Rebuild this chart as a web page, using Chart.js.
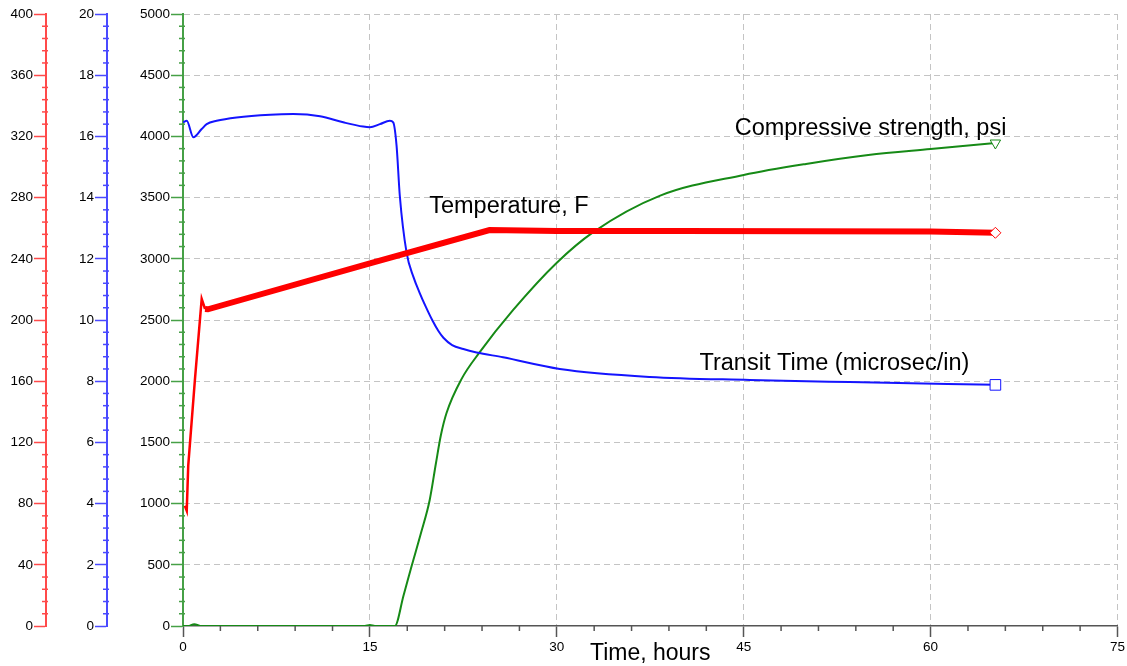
<!DOCTYPE html>
<html>
<head>
<meta charset="utf-8">
<script src="https://cdn.jsdelivr.net/npm/chart.js@4.4.0/dist/chart.umd.min.js"></script>
<style>
  html, body { margin: 0; padding: 0; background: #fff; }
  #wrap { width: 1127px; height: 666px; }
</style>
</head>
<body>
<div id="wrap"><canvas id="myChart"></canvas></div>
<script>
// values
const tempHours = [0.15, 0.3, 0.42, 0.96, 1.5, 1.77, 2.0, 15, 24.6, 30, 40, 50, 60, 65.2];
const tempValues = [78.6, 75.4, 104.8, 161.4, 213.8, 207.2, 207, 237, 258.8, 258.2, 258.1, 258.0, 257.9, 257.0];

const transitHours = [0.02, 0.3, 0.83, 1.5, 1.9, 2.7, 4.3, 7.0, 8.85, 11.0, 12.86, 14.46, 15.0, 15.8, 16.6, 16.87,
  17.14, 17.4, 17.94, 18.5, 19.0, 19.5, 20.0, 20.5, 20.9, 21.6, 22.5, 23.56, 25.69, 30.24, 37.46, 45.48, 53.5, 65.2];
const transitValues = [16.46, 16.51, 15.97, 16.24, 16.40, 16.51, 16.62, 16.71, 16.73, 16.66, 16.46, 16.32, 16.30, 16.40, 16.51, 16.46,
  15.70, 14.06, 12.21, 11.40, 10.88, 10.42, 10.00, 9.64, 9.42, 9.18, 9.05, 8.94, 8.78, 8.40, 8.14, 8.04, 7.97, 7.88];

const strengthHours = [0, 0.4, 0.9, 1.5, 14.6, 15.0, 15.4, 17.0, 17.7, 18.35, 19.1, 19.8, 20.3, 20.7, 21.15, 22.35, 23.8, 26.5,
  30, 32.9, 38.3, 45, 50, 55, 60, 65.2];
const strengthValues = [0, 0, 15, 0, 0, 8, 0, 0, 250, 490, 760, 1030, 1330, 1560, 1740, 2017, 2235, 2582,
  2968, 3216, 3516, 3685, 3775, 3848, 3897, 3946];

const timeTicks = [0, 15, 30, 45, 60, 75];

const seriesLabels = ['Temperature, F', 'Transit Time (microsec/in)', 'Compressive strength, psi'];

const RED = '#ff0000', BLUE = '#1414ff', GREEN = '#168a16';
const RED_AX = '#ff4a4a', BLUE_AX = '#4a4aff', GREEN_AX = '#46a046';

Chart.defaults.font.family = '"Liberation Sans", Arial, sans-serif';
Chart.defaults.color = '#000';

const pts = (xs, ys) => xs.map((x, i) => ({ x: x, y: ys[i] }));
const lastOnly = (r) => (c) => c.dataIndex === c.dataset.data.length - 1 ? r : 0;

// small minor ticks between the labelled ones
const minorTicks = {
  id: 'minorTicks',
  afterDraw(chart) {
    const ctx = chart.ctx;
    const defs = [
      { id: 'yTemp', step: 8, major: 40, color: RED_AX },
      { id: 'yTransit', step: 0.4, major: 2, color: BLUE_AX },
      { id: 'y', step: 100, major: 500, color: GREEN_AX },
      { id: 'x', step: 3, major: 15, color: '#555' }
    ];
    ctx.save();
    ctx.lineWidth = 1.5;
    defs.forEach(d => {
      const s = chart.scales[d.id];
      ctx.strokeStyle = d.color;
      for (let v = s.min; v <= s.max + 1e-6; v += d.step) {
        const r = v / d.major;
        if (Math.abs(r - Math.round(r)) < 1e-6) continue;
        const p = s.getPixelForValue(v);
        ctx.beginPath();
        if (d.id === 'x') {
          ctx.moveTo(p, s.top);
          ctx.lineTo(p, s.top + 5);
        } else {
          ctx.moveTo(s.right - 4, p);
          ctx.lineTo(s.right + 2, p);
        }
        ctx.stroke();
      }
    });
    ctx.restore();
  }
};

// series names written inside the plot
const seriesNames = {
  id: 'seriesNames',
  afterDatasetsDraw(chart) {
    const ctx = chart.ctx, x = chart.scales.x, y = chart.scales.y;
    const spots = [[19.76, 3372], [41.45, 2095], [44.28, 4011]];
    ctx.save();
    ctx.font = '23.5px "Liberation Sans", Arial, sans-serif';
    ctx.fillStyle = '#000';
    ctx.textBaseline = 'alphabetic';
    seriesLabels.forEach((t, i) => {
      ctx.fillText(t, x.getPixelForValue(spots[i][0]), y.getPixelForValue(spots[i][1]));
    });
    ctx.restore();
  }
};

const plain = (v) => String(v);

const sideAxis = (color, max, step, weight, width) => ({
  type: 'linear',
  position: 'left',
  min: 0,
  max: max,
  weight: weight,
  afterFit: (s) => { s.width = width; },
  border: { color: color, width: 2 },
  grid: { drawOnChartArea: false, color: color, tickColor: color, tickLength: 12, tickWidth: 1.5 },
  ticks: { stepSize: step, padding: 1, font: { size: 13.5 }, color: '#000', callback: plain }
});

const ctx = document.getElementById('myChart');

new Chart(ctx, {
  type: 'line',
  data: {
    datasets: [{
      label: seriesLabels[0],
      data: pts(tempHours, tempValues),
      yAxisID: 'yTemp',
      borderColor: RED,
      borderWidth: 6,
      segment: { borderWidth: (c) => c.p0.parsed.x < 1.6 ? 2.5 : 6 },
      lineTension: 0,
      pointStyle: 'rectRot',
      pointRadius: lastOnly(5.5),
      pointBackgroundColor: '#fff',
      pointBorderColor: RED,
      pointBorderWidth: 1
    }, {
      label: seriesLabels[1],
      data: pts(transitHours, transitValues),
      yAxisID: 'yTransit',
      borderColor: BLUE,
      borderWidth: 2,
      cubicInterpolationMode: 'monotone',
      pointStyle: 'rect',
      pointRadius: lastOnly(7.5),
      pointBackgroundColor: '#fff',
      pointBorderColor: BLUE,
      pointBorderWidth: 1
    }, {
      label: seriesLabels[2],
      data: pts(strengthHours, strengthValues),
      yAxisID: 'y',
      borderColor: GREEN,
      borderWidth: 2,
      cubicInterpolationMode: 'monotone',
      pointStyle: 'triangle',
      rotation: 180,
      pointRadius: lastOnly(6),
      pointBackgroundColor: '#fff',
      pointBorderColor: GREEN,
      pointBorderWidth: 1
    }]
  },
  options: {
    responsive: true,
    maintainAspectRatio: false,
    animation: false,
    layout: { padding: { top: 14, right: 9, bottom: 0, left: 0 } },
    scales: {
      x: {
        type: 'linear',
        min: 0,
        max: 75,
        afterFit: (s) => { s.height = 40; },
        afterBuildTicks: (s) => { s.ticks = timeTicks.map(v => ({ value: v })); },
        border: { color: '#555', width: 1.5, dash: [6, 4] },
        grid: {
          color: (c) => c.tick && c.tick.value === 0 ? 'rgba(0,0,0,0)' : '#c4c4c4',
          tickColor: '#555',
          tickLength: 11,
          tickWidth: 1.5
        },
        ticks: { padding: 2, font: { size: 13.5 }, color: '#000', maxRotation: 0, callback: plain },
        title: { display: true, text: 'Time, hours', font: { size: 23 }, padding: { top: 0, bottom: -1 }, color: '#000' }
      },
      yTemp: sideAxis(RED_AX, 400, 40, 3, 46),
      yTransit: sideAxis(BLUE_AX, 20, 2, 2, 61),
      y: {
        type: 'linear',
        position: 'left',
        min: 0,
        max: 5000,
        weight: 1,
        afterFit: (s) => { s.width = 76; },
        border: { color: GREEN_AX, width: 2, dash: [6, 4] },
        grid: {
          color: (c) => c.tick && c.tick.value === 0 ? 'rgba(0,0,0,0)' : '#c4c4c4',
          tickColor: GREEN_AX,
          tickLength: 12,
          tickWidth: 1.5
        },
        ticks: { stepSize: 500, padding: 1, font: { size: 13.5 }, color: '#000', callback: plain }
      }
    },
    plugins: {
      legend: { display: false },
      tooltip: { enabled: false }
    }
  },
  plugins: [minorTicks, seriesNames]
});
</script>
</body>
</html>
